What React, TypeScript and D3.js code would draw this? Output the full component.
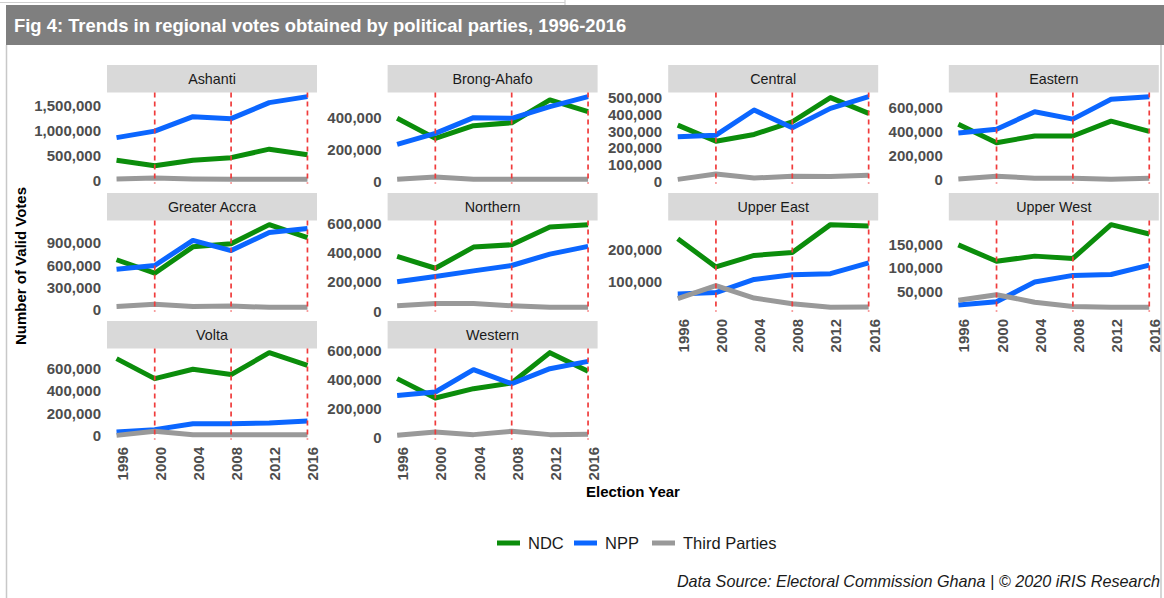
import React from "react";
import * as d3 from "d3";

// Election years on the x axis, and the years marked with dashed red rules
const years = [1996, 2000, 2004, 2008, 2012, 2016];
const markedYears = [2000, 2008, 2016];

// Regions, in facet order (4 columns)
const regions = [
  "Ashanti",
  "Brong-Ahafo",
  "Central",
  "Eastern",
  "Greater Accra",
  "Northern",
  "Upper East",
  "Upper West",
  "Volta",
  "Western",
];

// Valid votes per region (rows follow `regions`, columns follow `years`)
const ndcVotes = [
  [400000, 290000, 400000, 450000, 620000, 510000],
  [398000, 271000, 351000, 370000, 514000, 440000],
  [336000, 240000, 280000, 356000, 500000, 406000],
  [462000, 308000, 364000, 364000, 487000, 403000],
  [674000, 491000, 849000, 890000, 1150000, 973000],
  [375000, 294000, 439000, 455000, 577000, 593000],
  [233000, 145000, 181000, 190000, 277000, 273000],
  [149000, 114000, 125000, 120000, 192000, 172000],
  [688000, 510000, 593000, 546000, 741000, 628000],
  [407000, 274000, 338000, 377000, 585000, 457000],
];

const nppVotes = [
  [850000, 980000, 1270000, 1230000, 1550000, 1670000],
  [233000, 303000, 402000, 398000, 472000, 535000],
  [266000, 276000, 426000, 320000, 436000, 506000],
  [389000, 420000, 566000, 504000, 669000, 691000],
  [546000, 596000, 936000, 798000, 1042000, 1097000],
  [202000, 237000, 276000, 313000, 391000, 444000],
  [61000, 65000, 106000, 121000, 124000, 158000],
  [21000, 28000, 70000, 84000, 86000, 106000],
  [36000, 57000, 110000, 110000, 116000, 133000],
  [292000, 315000, 468000, 372000, 475000, 525000],
];

const thirdVotes = [
  [22000, 45000, 25000, 20000, 18000, 16000],
  [13000, 27000, 13000, 13000, 12000, 12000],
  [12000, 44000, 20000, 30000, 29000, 36000],
  [8000, 29000, 14000, 14000, 4000, 14000],
  [41000, 69000, 41000, 46000, 28000, 28000],
  [37000, 53000, 53000, 37000, 26000, 26000],
  [46000, 87000, 48000, 30000, 19000, 20000],
  [31000, 43000, 27000, 18000, 16000, 16000],
  [6000, 42000, 12000, 12000, 12000, 12000],
  [18000, 41000, 23000, 46000, 23000, 26000],
];

// Y-axis tick values per region (free y scales)
const yTickValues = [
  [0, 500000, 1000000, 1500000],
  [0, 200000, 400000],
  [0, 100000, 200000, 300000, 400000, 500000],
  [0, 200000, 400000, 600000],
  [0, 300000, 600000, 900000],
  [0, 200000, 400000, 600000],
  [100000, 200000],
  [50000, 100000, 150000],
  [0, 200000, 400000, 600000],
  [0, 200000, 400000, 600000],
];

const partyNames = ["NDC", "NPP", "Third Parties"];
const partyColors = ["#0b8d0b", "#0b66ff", "#999999"];
const partyVotes = [ndcVotes, nppVotes, thirdVotes];

const titleText =
  "Fig 4: Trends in regional votes obtained by political parties, 1996-2016";
const captionText =
  "Data Source: Electoral Commission Ghana | \u00A9 2020 iRIS Research";

const W = 1164;
const H = 598;
const FONT = "'Liberation Sans', Arial, Helvetica, sans-serif";

// Facet grid geometry
const nCol = 4;
const colLeft0 = 107;
const colPitch = 280.6;
const rowTop0 = 65;
const rowPitch = 128;
const panelW = 210;
const panelH = 91;
const stripH = 27.5;

const fmt = d3.format(",");

function Panel({ index }: { index: number }) {
  const col = index % nCol;
  const row = Math.floor(index / nCol);
  const left = colLeft0 + col * colPitch;
  const stripTop = rowTop0 + row * rowPitch;
  const showX = index + nCol >= regions.length;

  const x = d3
    .scaleLinear()
    .domain([years[0] - 1, years[years.length - 1] + 1])
    .range([0, panelW]);

  const all = partyVotes.flatMap((p) => p[index]);
  const [lo, hi] = d3.extent(all) as [number, number];
  const pad = (hi - lo) * 0.05;
  const y = d3
    .scaleLinear()
    .domain([lo - pad, hi + pad])
    .range([panelH, 0]);

  const line = d3
    .line<number>()
    .x((_, i) => x(years[i]))
    .y((v) => y(v));

  return (
    <g transform={`translate(${left},${stripTop})`}>
      <rect x={0} y={0} width={panelW} height={stripH} fill="#d9d9d9" />
      <text
        x={panelW / 2}
        y={stripH / 2}
        dy="0.36em"
        textAnchor="middle"
        fontSize={14.3}
        fill="#1a1a1a"
      >
        {regions[index]}
      </text>
      <g transform={`translate(0,${stripH})`}>
        {yTickValues[index].map((t) => (
          <text
            key={t}
            x={-6}
            y={y(t)}
            dy="0.36em"
            textAnchor="end"
            fontSize={15}
            fontWeight="bold"
            fill="#4d4d4d"
          >
            {fmt(t)}
          </text>
        ))}
        {partyVotes.map((p, k) => (
          <path
            key={partyNames[k]}
            d={line(p[index]) || ""}
            fill="none"
            stroke={partyColors[k]}
            strokeWidth={5}
            strokeLinejoin="round"
          />
        ))}
        {markedYears.map((yr) => (
          <line
            key={yr}
            x1={x(yr)}
            x2={x(yr)}
            y1={0}
            y2={panelH}
            stroke="#f03c3c"
            strokeWidth={1.7}
            strokeDasharray="5,4"
          />
        ))}
        {showX &&
          years.map((yr) => (
            <text
              key={yr}
              transform={`translate(${x(yr) + 11},${panelH + 7.5}) rotate(-90)`}
              textAnchor="end"
              fontSize={15}
              fontWeight="bold"
              fill="#4d4d4d"
            >
              {yr}
            </text>
          ))}
      </g>
    </g>
  );
}

export default function App() {
  const legendKeyX = [497, 574, 652];
  return (
    <svg
      width={W}
      height={H}
      viewBox={`0 0 ${W} ${H}`}
      style={{ position: "absolute", left: 0, top: 0, fontFamily: FONT }}
    >
      <rect x={0} y={0} width={W} height={H} fill="#ffffff" />
      {/* page frame */}
      <line x1={0} x2={565} y1={2.5} y2={2.5} stroke="#cfcfcf" strokeWidth={1.2} />
      <line x1={565} x2={565} y1={0} y2={5} stroke="#cfcfcf" strokeWidth={1.2} />
      <line x1={6.5} x2={6.5} y1={45} y2={H} stroke="#c8c8c8" strokeWidth={1.5} />
      <line x1={1161} x2={1161} y1={45} y2={H} stroke="#c8c8c8" strokeWidth={1.5} />

      {/* title bar */}
      <rect x={6} y={5} width={W - 6} height={40} fill="#7f7f7f" />
      <text x={14} y={32} fontSize={18.4} fontWeight="bold" fill="#ffffff">
        {titleText}
      </text>

      {regions.map((_, i) => (
        <Panel key={regions[i]} index={i} />
      ))}

      {/* axis titles */}
      <text
        transform="translate(26,266) rotate(-90)"
        textAnchor="middle"
        fontSize={15}
        fontWeight="bold"
        fill="#000000"
      >
        Number of Valid Votes
      </text>
      <text
        x={633}
        y={497}
        textAnchor="middle"
        fontSize={15}
        fontWeight="bold"
        fill="#000000"
      >
        Election Year
      </text>

      {/* legend */}
      {partyNames.map((name, k) => (
        <g key={name} transform={`translate(${legendKeyX[k]},543)`}>
          <line x1={0} x2={23} y1={0} y2={0} stroke={partyColors[k]} strokeWidth={5} />
          <text x={31} y={0} dy="0.36em" fontSize={16.5} fill="#1a1a1a">
            {name}
          </text>
        </g>
      ))}

      {/* caption */}
      <text
        x={1160}
        y={587}
        textAnchor="end"
        fontSize={16.2}
        fontStyle="italic"
        fill="#1a1a1a"
      >
        {captionText}
      </text>
    </svg>
  );
}
